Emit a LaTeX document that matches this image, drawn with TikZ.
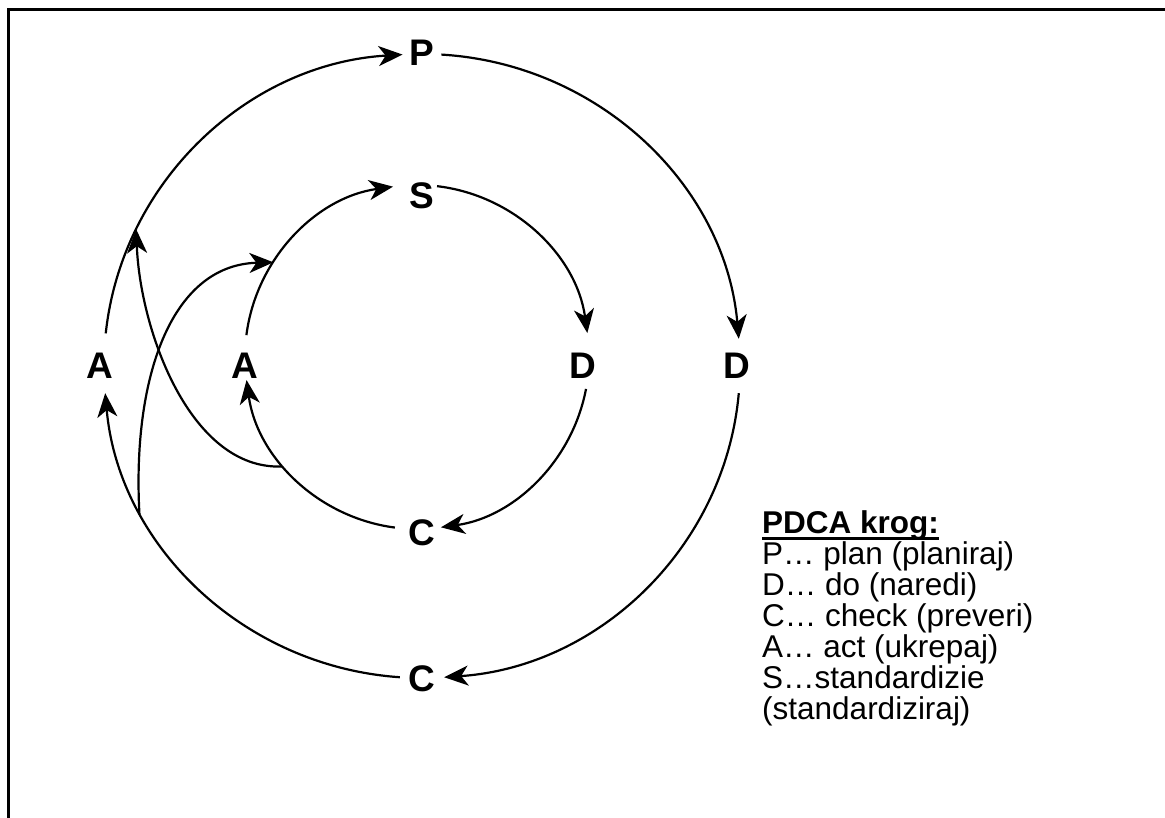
\documentclass[tikz,border=0pt]{standalone}
\usepackage{fontspec}
\setmainfont{Liberation Sans}
\usetikzlibrary{arrows.meta,calc}
\begin{document}
\begin{tikzpicture}[x=1pt,y=1pt,
  lbl/.style={font=\fontsize{37}{37}\selectfont\bfseries, inner sep=0pt,
              text height=26.5pt, text depth=0pt},
  leg/.style={font=\fontsize{31.5}{31}\selectfont, inner sep=0pt, anchor=base west},
  flow/.style={line width=2.2pt, -{Stealth[length=24pt,width=20pt,inset=7pt]}}]

\useasboundingbox (0,0) rectangle (1165,818);
% open frame: left side and top only
\draw[line width=3pt] (8,-3) -- (8,808) -- (1170,808);

% ---------- outer cycle: P -> D -> C -> A ----------
\coordinate (O) at (422,452);
\node[lbl] (P)  at (422,766) {P};
\node[lbl] (D)  at (737,453) {D};
\node[lbl] (C)  at (422,140) {C};
\node[lbl] (A)  at (100,453) {A};

\coordinate (oA) at ($(O)+(174:318 and 312)$);
\coordinate (oP) at ($(O)+(86.5:318 and 312)$);
\coordinate (oD) at ($(O)+(-5:318 and 312)$);
\coordinate (oC) at ($(O)+(266:318 and 312)$);
\draw[flow] (oA) arc[start angle=174,  end angle=93.5, x radius=318, y radius=312];
\draw[flow] (oP) arc[start angle=86.5, end angle=5,    x radius=318, y radius=312];
\draw[flow] (oD) arc[start angle=-5,   end angle=-86,  x radius=318, y radius=312];
\draw[flow] (oC) arc[start angle=266,  end angle=185,  x radius=318, y radius=312];

% ---------- inner cycle: S -> D -> C -> A ----------
\coordinate (I) at (417,461);
\node[lbl] (S)  at (422,623) {S};
\node[lbl] (iD) at (583,453) {D};
\node[lbl] (iC) at (422,286) {C};
\node[lbl] (iA) at (245,453) {A};

\coordinate (iAs) at ($(I)+(172.7:172)$);
\coordinate (iSs) at ($(I)+(83.3:172)$);
\coordinate (iDs) at ($(I)+(-10.7:172)$);
\coordinate (iCs) at ($(I)+(262.6:172)$);
\draw[flow] (iAs) arc[start angle=172.7, end angle=98,    radius=172];
\draw[flow] (iSs) arc[start angle=83.3,  end angle=8,     radius=172];
\draw[flow] (iDs) arc[start angle=-10.7, end angle=-82,   radius=172];
\draw[flow] (iCs) arc[start angle=262.6, end angle=187.7, radius=172];

% ---------- links between the two cycles ----------
\coordinate (x1s) at ($(I)+(219:174)$);
\coordinate (x1e) at ($(O)+(154:318 and 312)$);
\draw[flow] (x1s) .. controls (190,348) and (140,488) .. (x1e);

\coordinate (x2s) at ($(O)+(208:320 and 316)$);
\coordinate (x2e) at ($(I)+(146.6:172)$);
\draw[flow] (x2s) .. controls (132,438) and (170,553) .. (x2e);

% ---------- legend ----------
\node[leg] (h)  at (762,284) {\bfseries PDCA krog:};
\draw[line width=3pt] ($(h.base west)+(0,-5)$) -- ($(h.base east)+(0,-5)$);
\node[leg] (l1) at (762,253) {P… plan (planiraj)};
\node[leg] (l2) at (762,222) {D… do (naredi)};
\node[leg] (l3) at (762,191) {C… check (preveri)};
\node[leg] (l4) at (762,160) {A… act (ukrepaj)};
\node[leg] (l5) at (762,129) {S…standardizie};
\node[leg] (l6) at (762,98)  {(standardiziraj)};
\end{tikzpicture}
\end{document}
